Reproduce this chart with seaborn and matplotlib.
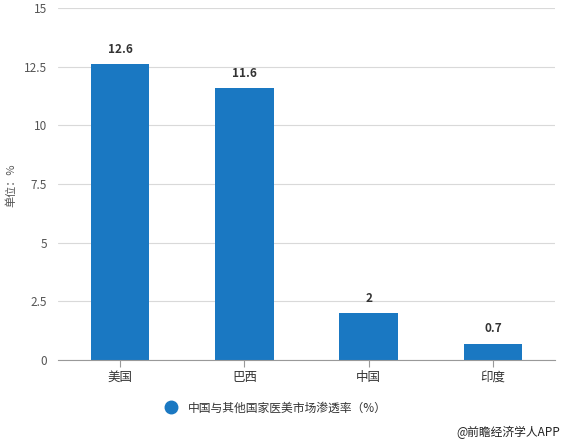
import matplotlib
matplotlib.use("Agg")
import matplotlib.pyplot as plt
import seaborn as sns
import pandas as pd
from matplotlib.lines import Line2D

categories = ["美国", "巴西", "中国", "印度"]
values = [12.6, 11.6, 2, 0.7]
value_labels = ["12.6", "11.6", "2", "0.7"]
yticks = [0, 2.5, 5, 7.5, 10, 12.5, 15]
ytick_labels = ["0", "2.5", "5", "7.5", "10", "12.5", "15"]
series_name = "中国与其他国家医美市场渗透率（%）"

sns.set_theme(style="white")
plt.rcParams['font.family'] = ['Noto Sans CJK SC', 'DejaVu Sans']

df = pd.DataFrame({"cat": categories, "val": values})
color = "#1a78c2"

fig = plt.figure(figsize=(5.63, 4.42), dpi=100)
ax = fig.add_axes([0.103, 0.1855, 0.883, 0.7965])
sns.barplot(data=df, x="cat", y="val", color=color, width=0.47, ax=ax, saturation=1, linewidth=0)

ax.set_ylim(0, 15)
ax.set_yticks(yticks)
ax.set_yticklabels(ytick_labels)
ax.set_xlim(-0.5, 3.5)
ax.yaxis.grid(True, color="#d9d9d9", linewidth=0.8)
ax.set_axisbelow(True)
for s in ["top", "right", "left"]:
    ax.spines[s].set_visible(False)
ax.spines["bottom"].set_color("#999999")
ax.spines["bottom"].set_linewidth(0.8)
ax.tick_params(axis="y", length=0, labelsize=8.5, labelcolor="#555555", pad=8)
ax.tick_params(axis="x", length=5, width=0.8, color="#999999", labelsize=9, labelcolor="#333333", bottom=True, pad=3)
ax.set_xlabel("")
ax.set_ylabel("")
fig.text(0.02, 0.58, "单位：%", rotation=90, ha="center", va="center", fontsize=8, color="#555555")

for i, (v, lab) in enumerate(zip(values, value_labels)):
    ax.text(i, v + 0.35, lab, ha="center", va="bottom", fontsize=8.5, fontweight="bold", color="#333333")

handle = Line2D([0], [0], marker="o", linestyle="none", markersize=9, markerfacecolor=color, markeredgecolor=color)
fig.legend([handle], [series_name], loc="center", bbox_to_anchor=(0.485, 0.077), frameon=False,
           fontsize=8.5, handletextpad=0.4, labelcolor="#333333")
fig.text(0.995, 0.022, "@前瞻经济学人APP", ha="right", va="center", fontsize=8.5, color="#222222")

fig.savefig("out.png", dpi=100)
